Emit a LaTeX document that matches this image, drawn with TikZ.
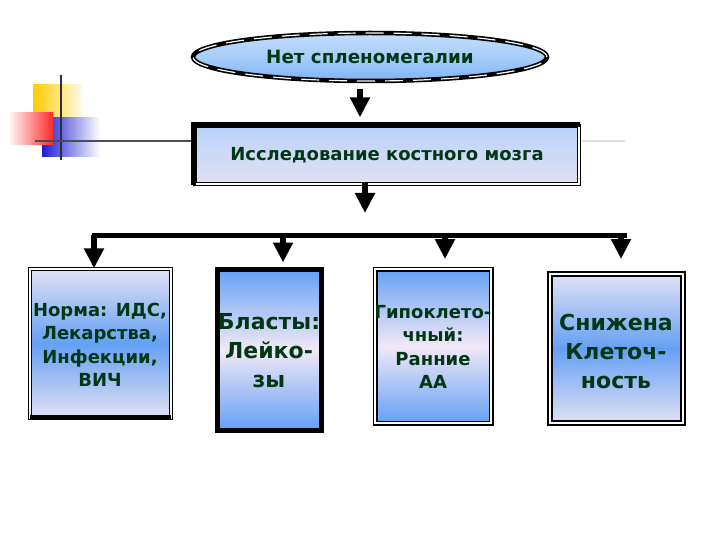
\documentclass[tikz,border=0pt]{standalone}
\usepackage{fontspec}
\setmainfont{DejaVu Sans}
\usetikzlibrary{arrows.meta,shapes.geometric,calc}
\definecolor{txtg}{RGB}{0,55,20}
\definecolor{lav}{RGB}{226,224,244}
\definecolor{bblue}{RGB}{100,160,245}
\definecolor{pale}{RGB}{242,232,246}
\definecolor{lblue}{RGB}{185,210,250}
\definecolor{eblueT}{RGB}{195,222,252}
\definecolor{eblueB}{RGB}{125,180,245}
\definecolor{decoY}{RGB}{255,204,0}
\definecolor{decoR}{RGB}{255,40,40}
\definecolor{decoB}{RGB}{30,30,210}
\definecolor{decoL}{RGB}{45,45,60}
\begin{document}
\begin{tikzpicture}[x=1pt,y=-1pt,
  arr/.style={line width=6pt, -{Triangle[length=20pt,width=19pt]}},
  lbl/.style={text=txtg, align=center, inner sep=0pt},
  boxLBL/.style={rectangle, inner sep=0pt, top color=lav, bottom color=lav, middle color=bblue},
  boxBLB/.style={rectangle, inner sep=0pt, top color=bblue, bottom color=bblue, middle color=pale},
  dframe/.style={draw=black, line width=1.3pt, double=white, double distance=1.4pt},
  smallfont/.style={font=\bfseries\fontsize{18}{23.5}\selectfont},
  bigfont/.style={font=\bfseries\fontsize{22}{29}\selectfont},
]
\useasboundingbox (0,0) rectangle (720,540);
\fill[white] (0,0) rectangle (720,540);

% slide decoration
\shade[left color=decoY, right color=decoY!10] (33,85) rectangle (82,118);
\shade[left color=decoB, right color=white] (42,118) rectangle (100,157);
\shade[left color=decoR!5, right color=decoR] (10,113) rectangle (53,145);
\draw[decoL, line width=2.5pt] (61,75) -- (61,160);
\draw[decoL!85, line width=2pt] (35,141) -- (192,141);
\draw[black!12, line width=1.5pt] (582,141) -- (625,141);

% top ellipse
\node[ellipse, minimum width=354pt, minimum height=48pt, inner sep=0pt,
      top color=eblueT, bottom color=eblueB, middle color=eblueT!60!eblueB,
      draw=black, line width=4.5pt, lbl, font=\bfseries\fontsize{18.3}{20}\selectfont]
      (E) at (370,57) {Нет спленомегалии};
\draw[white, line width=1.2pt, dash pattern=on 18pt off 10pt] (E.center) ellipse [x radius=177pt, y radius=24pt];

% main box
\node[rectangle, minimum width=384pt, minimum height=58pt, inner sep=0pt,
      top color=lblue, middle color=bblue!85, bottom color=lav, dframe,
      lbl, font=\bfseries\fontsize{18}{20}\selectfont]
      (M) at (387,155) {\raisebox{-4pt}{Исследование костного мозга}};
\draw[line width=5pt] ($(M.south west)+(-1,0)$) |- ($(M.north east)+(0,-1)$);

% lower boxes
\node[boxLBL, dframe, minimum width=141pt, minimum height=149pt] (A) at (100.5,343.5) {};
\draw[line width=4.5pt] ($(A.south west)+(1,-1)$) -- ($(A.south east)+(-1,-1)$);
\node[boxBLB, draw=black, line width=5pt, minimum width=104pt, minimum height=161pt] (B) at (269,349.5) {};
\node[boxBLB, dframe, line width=1.8pt, minimum width=116pt, minimum height=154pt] (C) at (433,346) {};
\node[boxLBL, dframe, line width=2pt, minimum width=133pt, minimum height=149pt] (D) at (616.5,348.5) {};

\node[lbl, smallfont] (tA) at (100,345) {Норма: ИДС,\\Лекарства,\\Инфекции,\\ВИЧ};
\node[lbl, bigfont] (tB) at (269,351) {Бласты:\\Лейко-\\зы};
\node[lbl, smallfont] (tC) at (433,347) {Гипоклето-\\чный:\\Ранние\\АА};
\node[lbl, bigfont] (tD) at (616,351) {Снижена\\Клеточ-\\ность};

% connectors
\coordinate (j) at (365,213);
\coordinate (b1) at (94,235);
\coordinate (b2) at (283,235);
\coordinate (b3) at (445,235);
\coordinate (b4) at (621,235);
\coordinate (bE) at (627,235);
\draw[arr] ($(E.south)+(-10,6)$) -- ($(M.north)+(-27,-8)$);
\draw[arr] ($(M.south)+(-22,-2)$) -- (j);
\draw[line width=5pt] ($(b1)+(-2.5,0)$) -- (bE);
\draw[arr] (b1) -- (b1 |- A.north);
\draw[arr] (b2) -- ($(b2 |- B.north)+(0,-4)$);
\draw[arr] (b3) -- ($(b3 |- C.north)+(0,-9)$);
\draw[arr] (b4) -- ($(b4 |- D.north)+(0,-14)$);
\end{tikzpicture}
\end{document}
